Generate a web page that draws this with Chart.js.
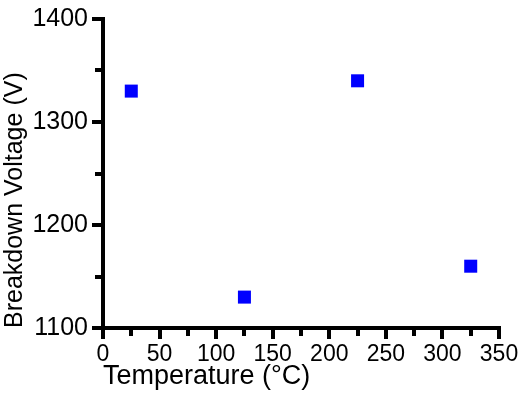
<!DOCTYPE html>
<html><head><meta charset="utf-8">
<script src="https://cdn.jsdelivr.net/npm/chart.js@4"></script>
<style>html,body{margin:0;padding:0;background:#fff;}#wrap{width:521px;height:395px;}</style>
</head><body><div id="wrap"><canvas id="c" width="521" height="395"></canvas></div>
<script>
const temperatures = [25, 125, 225, 325];
const breakdownVoltages = [1330, 1130, 1340, 1160];
const xTickValues = [0, 50, 100, 150, 200, 250, 300, 350];
const xMinorTickValues = [25, 75, 125, 175, 225, 275, 325];
const yTickValues = [1100, 1200, 1300, 1400];
const yMinorTickValues = [1150, 1250, 1350];
const xTitle = 'Temperature (\u00B0C)';
const yTitle = 'Breakdown Voltage (V)';

const FONT = '"Liberation Sans", Arial, sans-serif';

const minorTicks = {
  id: 'minorTicks',
  afterDraw(chart) {
    const ctx = chart.ctx;
    const xs = chart.scales.x, ys = chart.scales.y;
    const area = chart.chartArea;
    ctx.save();
    ctx.strokeStyle = '#000';
    ctx.lineWidth = 4;
    xMinorTickValues.forEach(v => {
      const px = Math.round(xs.getPixelForValue(v));
      ctx.beginPath(); ctx.moveTo(px, area.bottom); ctx.lineTo(px, area.bottom + 8); ctx.stroke();
    });
    yMinorTickValues.forEach(v => {
      const py = Math.round(ys.getPixelForValue(v));
      ctx.beginPath(); ctx.moveTo(area.left, py); ctx.lineTo(area.left - 8, py); ctx.stroke();
    });
    ctx.restore();
  }
};

new Chart(document.getElementById('c'), {
  type: 'scatter',
  data: {
    datasets: [{
      data: temperatures.map((t, i) => ({ x: t, y: breakdownVoltages[i] })),
      pointStyle: 'rect',
      pointRadius: 9.2,
      pointHoverRadius: 9.2,
      backgroundColor: '#0000ff',
      borderColor: '#0000ff',
      borderWidth: 0
    }]
  },
  options: {
    responsive: false,
    animation: false,
    devicePixelRatio: 1,
    layout: { padding: { left: 0, right: 22, top: 17, bottom: 0 } },
    plugins: { legend: { display: false }, tooltip: { enabled: false } },
    scales: {
      x: {
        type: 'linear', min: 0, max: 350,
        afterBuildTicks: s => { s.ticks = xTickValues.map(v => ({ value: v })); },
        afterFit: s => { s.height = 67; },
        border: { display: true, width: 4, color: '#000' },
        grid: { drawOnChartArea: false, drawTicks: true, tickLength: 11, lineWidth: 4, tickWidth: 4, tickColor: '#000', color: '#000' },
        ticks: { color: '#000', font: { family: FONT, size: 23 }, padding: 2, maxRotation: 0, autoSkip: false, callback: v => String(v) },
        title: { display: true, text: xTitle, align: 'start', color: '#000', font: { family: FONT, size: 27 }, padding: { top: 0, bottom: 2 } }
      },
      y: {
        type: 'linear', min: 1100, max: 1400,
        afterBuildTicks: s => { s.ticks = yTickValues.map(v => ({ value: v })); },
        afterFit: s => { s.width = 103; },
        border: { display: true, width: 4, color: '#000' },
        grid: { drawOnChartArea: false, drawTicks: true, tickLength: 11, lineWidth: 4, tickWidth: 4, tickColor: '#000', color: '#000' },
        ticks: { color: '#000', font: { family: FONT, size: 25 }, padding: 4, autoSkip: false, callback: v => String(v) },
        title: { display: true, text: yTitle, align: 'start', color: '#000', font: { family: FONT, size: 25 }, padding: { top: 0, bottom: 0 } }
      }
    }
  },
  plugins: [minorTicks]
});
</script>
</body></html>
